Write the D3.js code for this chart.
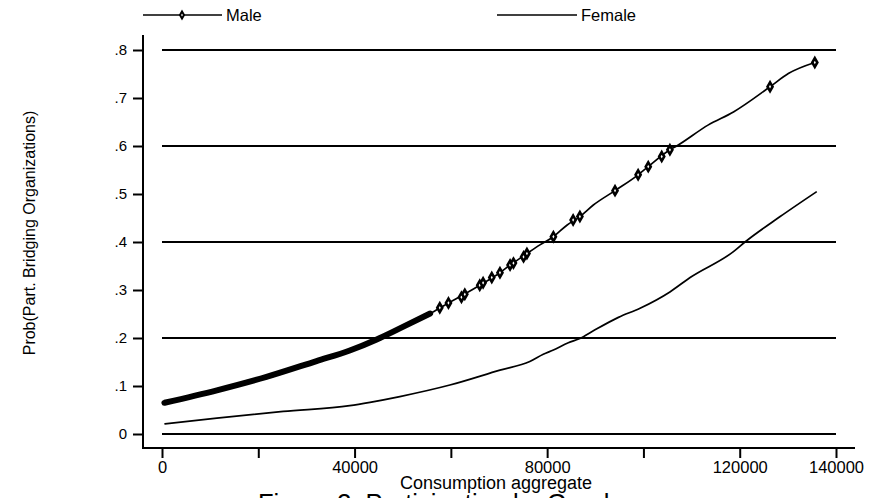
<!DOCTYPE html>
<html>
<head>
<meta charset="utf-8">
<script src="https://cdn.jsdelivr.net/npm/d3@7"></script>
<style>
  body { margin: 0; background: #fff; }
  svg { display: block; font-family: "Liberation Sans", Arial, sans-serif; }
</style>
</head>
<body>
<div id="chart"></div>
<script>
// values
const maleX = [500, 11400, 21700, 32100, 39000, 44600, 49400, 55700, 59500, 62600, 66700, 70200, 72300, 75100, 78500, 81300, 84100, 86800, 89600, 94100, 98900, 101000, 105500, 106900, 113500, 118700, 126300, 130100, 135600];
const maleY = [.065, .091, .119, .152, .174, .197, .220, .251, .273, .290, .314, .336, .352, .371, .394, .411, .435, .453, .477, .507, .540, .557, .592, .600, .644, .671, .7235, .751, .774];

const femaleX = [500, 11400, 25200, 39000, 43200, 49400, 59800, 70200, 76400, 79200, 81300, 84400, 86800, 89600, 94800, 99300, 105500, 109700, 118700, 121100, 128400, 136000];
const femaleY = [.021, .033, .047, .059, .066, .078, .102, .133, .151, .166, .175, .190, .199, .215, .243, .262, .296, .326, .380, .400, .453, .505];

// sparse male markers beyond the dense part
const markX = [57700, 59500, 62200, 62900, 66000, 66700, 68500, 70200, 72300, 73000, 75100, 75800, 81300, 85400, 86800, 94100, 98900, 101000, 103800, 105500, 126300, 135600];
const markY = [.263, .273, .285, .291, .310, .315, .326, .336, .352, .356, .369, .376, .411, .446, .453, .507, .540, .557, .578, .592, .7235, .774];

const xTicks = [0, 20000, 40000, 60000, 80000, 100000, 120000, 140000];
const xLabelled = [0, 40000, 80000, 120000, 140000];
const yTicks = [0, .1, .2, .3, .4, .5, .6, .7, .8];
const gridY = [0, .2, .4, .6, .8];

const width = 869, height = 498;

const svg = d3.select("#chart").append("svg")
    .attr("width", width)
    .attr("height", height);

const x = d3.scaleLinear().domain([0, 140000]).range([162, 836]);
const y = d3.scaleLinear().domain([0, .8]).range([434, 50]);

const male = maleX.map((v, i) => [v, maleY[i]]);
const female = femaleX.map((v, i) => [v, femaleY[i]]);
const marks = markX.map((v, i) => [v, markY[i]]);

// grid lines
svg.append("g")
  .selectAll("line")
  .data(gridY)
  .join("line")
    .attr("x1", x(0))
    .attr("x2", x(140000))
    .attr("y1", d => y(d))
    .attr("y2", d => y(d))
    .attr("stroke", "#000")
    .attr("stroke-width", 2.2);

// y axis
const yAxis = svg.append("g")
    .attr("transform", "translate(143,0)")
    .call(d3.axisLeft(y).tickValues(yTicks).tickSize(10).tickPadding(6)
      .tickFormat(d => d === 0 ? "0" : d3.format(".1f")(d).replace(/^0/, "")));
yAxis.select(".domain").remove();
yAxis.selectAll(".tick line").attr("stroke-width", 2);
yAxis.selectAll("text").attr("font-size", 15).attr("fill", "#000")
    .attr("font-family", "Liberation Sans, Arial, sans-serif");

// x axis
const xAxis = svg.append("g")
    .attr("transform", "translate(0,448)")
    .call(d3.axisBottom(x).tickValues(xTicks).tickSize(10).tickPadding(3)
      .tickFormat(d => xLabelled.includes(d) ? d3.format("d")(d) : ""));
xAxis.select(".domain").remove();
xAxis.selectAll(".tick line").attr("stroke-width", 2);
xAxis.selectAll("text").attr("font-size", 16.5).attr("fill", "#000")
    .attr("font-family", "Liberation Sans, Arial, sans-serif");

// axis lines
svg.append("line").attr("x1", 143).attr("x2", 143).attr("y1", 35).attr("y2", 449)
    .attr("stroke", "#000").attr("stroke-width", 2);
svg.append("line").attr("x1", 142).attr("x2", 855).attr("y1", 448).attr("y2", 448)
    .attr("stroke", "#000").attr("stroke-width", 2);

const line = d3.line().curve(d3.curveMonotoneX).x(d => x(d[0])).y(d => y(d[1]));

// female
svg.append("path")
    .datum(female)
    .attr("d", line)
    .attr("fill", "none")
    .attr("stroke", "#000")
    .attr("stroke-width", 1.7);

// male
svg.append("path")
    .datum(male)
    .attr("d", line)
    .attr("fill", "none")
    .attr("stroke", "#000")
    .attr("stroke-width", 1.7);

// dense marker region drawn as thick band
svg.append("path")
    .datum(male.filter(d => d[0] <= 55700))
    .attr("d", line)
    .attr("fill", "none")
    .attr("stroke", "#000")
    .attr("stroke-width", 6)
    .attr("stroke-linecap", "round");

const diamond = d3.symbol().type(d3.symbolDiamond).size(22);

svg.append("g")
  .selectAll("path")
  .data(marks)
  .join("path")
    .attr("d", diamond)
    .attr("transform", d => `translate(${x(d[0])},${y(d[1])})`)
    .attr("fill", "#fff")
    .attr("stroke", "#000")
    .attr("stroke-width", 2.6);

// legend
const legend = svg.append("g");
legend.append("line").attr("x1", 143).attr("x2", 222).attr("y1", 15).attr("y2", 15)
    .attr("stroke", "#000").attr("stroke-width", 1.5);
legend.append("path").attr("d", d3.symbol().type(d3.symbolDiamond).size(14)).attr("transform", "translate(182,15)")
    .attr("fill", "#fff").attr("stroke", "#000").attr("stroke-width", 2);
legend.append("text").attr("x", 226).attr("y", 21).attr("font-size", 16.5).text("Male");
legend.append("line").attr("x1", 497).attr("x2", 577).attr("y1", 15).attr("y2", 15)
    .attr("stroke", "#000").attr("stroke-width", 1.5);
legend.append("text").attr("x", 581).attr("y", 21).attr("font-size", 16.5).text("Female");

// axis titles
svg.append("text")
    .attr("transform", "translate(35,233) rotate(-90)")
    .attr("text-anchor", "middle")
    .attr("font-size", 16)
    .text("Prob(Part. Bridging Organizations)");

svg.append("text")
    .attr("x", 496)
    .attr("y", 489)
    .attr("text-anchor", "middle")
    .attr("font-size", 18)
    .text("Consumption aggregate");

svg.append("text")
    .attr("x", 445)
    .attr("y", 512)
    .attr("text-anchor", "middle")
    .attr("font-size", 25.5)
    .text("Figure 3: Participation by Gender");
</script>
</body>
</html>
